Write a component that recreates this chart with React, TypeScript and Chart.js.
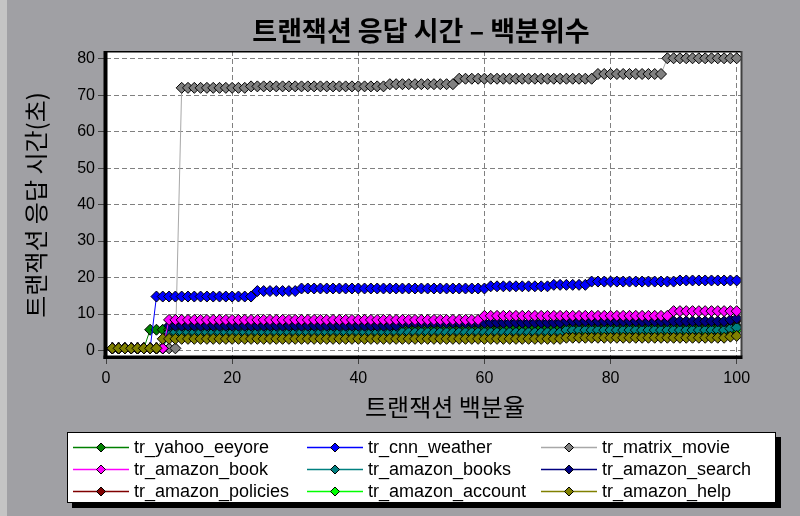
import React, { useEffect, useRef } from "react";
import { Chart, registerables } from "chart.js";
Chart.register(...registerables);

const TITLE = "트랜잭션 응답 시간 – 백분위수";
const X_TITLE = "트랜잭션 백분율";
const Y_TITLE = "트랜잭션 응답 시간(초)";

const X_TICKS = [0, 20, 40, 60, 80, 100];
const Y_TICKS = [0, 10, 20, 30, 40, 50, 60, 70, 80];

const PERCENTILES = [
  1, 2, 3, 4, 5, 6, 7, 8, 9, 10,
  11, 12, 13, 14, 15, 16, 17, 18, 19, 20,
  21, 22, 23, 24, 25, 26, 27, 28, 29, 30,
  31, 32, 33, 34, 35, 36, 37, 38, 39, 40,
  41, 42, 43, 44, 45, 46, 47, 48, 49, 50,
  51, 52, 53, 54, 55, 56, 57, 58, 59, 60,
  61, 62, 63, 64, 65, 66, 67, 68, 69, 70,
  71, 72, 73, 74, 75, 76, 77, 78, 79, 80,
  81, 82, 83, 84, 85, 86, 87, 88, 89, 90,
  91, 92, 93, 94, 95, 96, 97, 98, 99, 100,
];

const TR_YAHOO_EEYORE = [
  0.6, 0.6, 0.6, 0.6, 0.6, 0.6, 5.7, 5.7, 5.7, 5.7,
  5.7, 5.7, 5.7, 5.7, 5.7, 5.7, 5.7, 5.7, 5.7, 5.7,
  5.7, 5.7, 5.7, 5.7, 5.7, 5.7, 5.7, 5.7, 5.7, 5.7,
  5.7, 5.7, 5.7, 5.7, 5.7, 5.7, 5.7, 5.7, 5.7, 5.7,
  5.7, 5.7, 5.7, 5.7, 5.7, 5.7, 5.7, 5.7, 5.7, 5.7,
  5.7, 5.7, 5.7, 5.7, 5.7, 5.7, 5.7, 5.7, 5.7, 5.7,
  5.7, 5.7, 5.7, 6.2, 6.2, 6.2, 6.2, 6.2, 6.2, 6.2,
  6.2, 6.2, 6.2, 6.2, 6.2, 6.2, 6.2, 6.2, 6.2, 6.2,
  6.2, 6.2, 6.2, 6.2, 6.2, 6.2, 6.2, 6.2, 6.2, 6.2,
  6.2, 6.2, 6.2, 6.2, 6.2, 6.2, 6.2, 6.2, 6.2, 6.6,
];

const TR_CNN_WEATHER = [
  0.6, 0.6, 0.6, 0.6, 0.6, 0.6, 0.6, 14.8, 14.8, 14.8,
  14.8, 14.8, 14.8, 14.8, 14.8, 14.8, 14.8, 14.8, 14.8, 14.8,
  14.8, 14.8, 14.8, 16.3, 16.3, 16.3, 16.3, 16.3, 16.3, 16.3,
  17.0, 17.0, 17.0, 17.0, 17.0, 17.0, 17.0, 17.0, 17.0, 17.0,
  17.0, 17.0, 17.0, 17.0, 17.0, 17.0, 17.0, 17.0, 17.0, 17.0,
  17.0, 17.0, 17.0, 17.0, 17.0, 17.0, 17.0, 17.0, 17.0, 17.0,
  17.6, 17.6, 17.6, 17.6, 17.6, 17.6, 17.6, 17.6, 17.6, 17.6,
  18.0, 18.0, 18.0, 18.0, 18.0, 18.0, 18.9, 18.9, 18.9, 18.9,
  18.9, 18.9, 18.9, 18.9, 18.9, 18.9, 18.9, 18.9, 18.9, 18.9,
  19.2, 19.2, 19.2, 19.2, 19.2, 19.2, 19.2, 19.2, 19.2, 19.2,
];

const TR_MATRIX_MOVIE = [
  0.6, 0.6, 0.6, 0.6, 0.6, 0.6, 0.6, 0.6, 0.6, 0.6,
  0.6, 72.0, 72.0, 72.0, 72.0, 72.0, 72.0, 72.0, 72.0, 72.0,
  72.0, 72.0, 72.4, 72.4, 72.4, 72.4, 72.4, 72.4, 72.4, 72.4,
  72.4, 72.4, 72.4, 72.4, 72.4, 72.4, 72.4, 72.4, 72.4, 72.4,
  72.4, 72.4, 72.4, 72.4, 73.0, 73.0, 73.0, 73.0, 73.0, 73.0,
  73.0, 73.0, 73.0, 73.0, 73.0, 74.5, 74.5, 74.5, 74.5, 74.5,
  74.5, 74.5, 74.5, 74.5, 74.5, 74.5, 74.5, 74.5, 74.5, 74.5,
  74.5, 74.5, 74.5, 74.5, 74.5, 74.5, 74.5, 75.8, 75.8, 75.8,
  75.8, 75.8, 75.8, 75.8, 75.8, 75.8, 75.8, 75.8, 80.1, 80.1,
  80.1, 80.1, 80.1, 80.1, 80.1, 80.1, 80.1, 80.1, 80.1, 80.1,
];

const TR_AMAZON_BOOK = [
  0.6, 0.6, 0.6, 0.6, 0.6, 0.6, 0.6, 0.6, 0.6, 8.4,
  8.4, 8.4, 8.4, 8.4, 8.4, 8.4, 8.4, 8.4, 8.4, 8.4,
  8.4, 8.4, 8.4, 8.4, 8.4, 8.4, 8.4, 8.4, 8.4, 8.4,
  8.4, 8.4, 8.4, 8.4, 8.4, 8.4, 8.4, 8.4, 8.4, 8.4,
  8.4, 8.4, 8.4, 8.4, 8.4, 8.4, 8.4, 8.4, 8.4, 8.4,
  8.4, 8.4, 8.4, 8.4, 8.4, 8.4, 8.4, 8.4, 8.4, 9.5,
  9.5, 9.5, 9.5, 9.5, 9.5, 9.5, 9.5, 9.5, 9.5, 9.5,
  9.5, 9.5, 9.5, 9.5, 9.5, 9.5, 9.5, 9.5, 9.5, 9.5,
  9.5, 9.5, 9.5, 9.5, 9.5, 9.5, 9.5, 9.5, 9.5, 10.8,
  10.8, 10.8, 10.8, 10.8, 10.8, 10.8, 10.8, 10.8, 10.8, 10.8,
];

const TR_AMAZON_BOOKS = [
  0.6, 0.6, 0.6, 0.6, 0.6, 0.6, 0.6, 0.6, 0.6, 5.0,
  5.0, 5.0, 5.0, 5.0, 5.0, 5.0, 5.0, 5.0, 5.0, 5.0,
  5.0, 5.0, 5.0, 5.0, 5.0, 5.0, 5.0, 5.0, 5.0, 5.0,
  5.0, 5.0, 5.0, 5.0, 5.0, 5.0, 5.0, 5.0, 5.0, 5.0,
  5.0, 5.0, 5.0, 5.0, 5.0, 5.0, 5.0, 5.0, 5.0, 5.0,
  5.0, 5.0, 5.0, 5.0, 5.0, 5.0, 5.0, 5.0, 5.0, 5.0,
  5.0, 5.0, 5.0, 5.0, 5.0, 5.0, 5.0, 5.0, 5.0, 5.0,
  5.0, 5.0, 5.6, 5.6, 5.6, 5.6, 5.6, 5.6, 5.6, 5.6,
  5.6, 5.6, 5.6, 5.6, 5.6, 5.6, 5.6, 5.6, 5.6, 5.6,
  5.6, 5.6, 5.6, 5.6, 5.6, 5.6, 5.6, 5.6, 6.0, 6.3,
];

const TR_AMAZON_SEARCH = [
  0.6, 0.6, 0.6, 0.6, 0.6, 0.6, 0.6, 0.6, 0.6, 6.8,
  6.8, 6.8, 6.8, 6.8, 6.8, 6.8, 6.8, 6.8, 6.8, 6.8,
  6.8, 6.8, 6.8, 6.8, 6.8, 6.8, 6.8, 6.8, 6.8, 6.8,
  6.8, 6.8, 6.8, 6.8, 6.8, 6.8, 6.8, 6.8, 6.8, 6.8,
  6.8, 6.8, 6.8, 6.8, 6.8, 6.8, 7.6, 7.6, 7.6, 7.6,
  7.6, 7.6, 7.6, 7.6, 7.6, 7.6, 7.6, 7.6, 7.6, 7.6,
  7.6, 7.6, 7.6, 7.6, 7.6, 7.6, 7.6, 7.6, 7.6, 7.6,
  7.6, 7.6, 8.0, 8.0, 8.0, 8.0, 8.0, 8.0, 8.0, 8.0,
  8.0, 8.0, 8.0, 8.0, 8.0, 8.0, 8.0, 8.0, 8.0, 8.0,
  8.0, 8.0, 8.0, 8.0, 8.0, 8.0, 8.0, 8.0, 8.4, 8.8,
];

const TR_AMAZON_POLICIES = [
  0.6, 0.6, 0.6, 0.6, 0.6, 0.6, 0.6, 0.6, 0.6, 6.6,
  6.6, 6.6, 6.6, 6.6, 6.6, 6.6, 6.6, 6.6, 6.6, 6.6,
  6.6, 6.6, 6.6, 6.6, 6.6, 6.6, 6.6, 6.6, 6.6, 6.6,
  6.6, 6.6, 6.6, 6.6, 6.6, 6.6, 6.6, 6.6, 6.6, 6.6,
  6.6, 6.6, 6.6, 6.6, 6.6, 6.6, 7.4, 7.4, 7.4, 7.4,
  7.4, 7.4, 7.4, 7.4, 7.4, 7.4, 7.4, 7.4, 7.4, 7.4,
  7.4, 7.4, 7.4, 7.4, 7.4, 7.4, 7.4, 7.4, 7.4, 7.4,
  7.4, 7.4, 7.8, 7.8, 7.8, 7.8, 7.8, 7.8, 7.8, 7.8,
  7.8, 7.8, 7.8, 7.8, 7.8, 7.8, 7.8, 7.8, 7.8, 7.8,
  7.8, 7.8, 7.8, 7.8, 7.8, 7.8, 7.8, 7.8, 8.1, 8.4,
];

const TR_AMAZON_ACCOUNT = [
  0.6, 0.6, 0.6, 0.6, 0.6, 0.6, 0.6, 0.6, 0.6, 4.6,
  4.6, 4.6, 4.6, 4.6, 4.6, 4.6, 4.6, 4.6, 4.6, 4.6,
  4.6, 4.6, 4.6, 4.6, 4.6, 4.6, 4.6, 4.6, 4.6, 4.6,
  4.6, 4.6, 4.6, 4.6, 4.6, 4.6, 4.6, 4.6, 4.6, 4.6,
  4.6, 4.6, 4.6, 4.6, 4.6, 4.6, 4.6, 4.6, 4.6, 4.6,
  4.6, 4.6, 4.6, 4.6, 4.6, 4.6, 4.6, 4.6, 4.6, 4.6,
  4.6, 4.6, 4.6, 4.6, 4.6, 4.6, 4.6, 4.6, 4.6, 4.6,
  4.6, 4.6, 5.2, 5.2, 5.2, 5.2, 5.2, 5.2, 5.2, 5.2,
  5.2, 5.2, 5.2, 5.2, 5.2, 5.2, 5.2, 5.2, 5.2, 5.2,
  5.2, 5.2, 5.2, 5.2, 5.2, 5.2, 5.2, 5.2, 5.6, 5.6,
];

const TR_AMAZON_HELP = [
  0.6, 0.6, 0.6, 0.6, 0.6, 0.6, 0.6, 0.6, 3.2, 3.2,
  3.2, 3.2, 3.2, 3.2, 3.2, 3.2, 3.2, 3.2, 3.2, 3.2,
  3.2, 3.2, 3.2, 3.2, 3.2, 3.2, 3.2, 3.2, 3.2, 3.2,
  3.2, 3.2, 3.2, 3.2, 3.2, 3.2, 3.2, 3.2, 3.2, 3.2,
  3.2, 3.2, 3.2, 3.2, 3.2, 3.2, 3.2, 3.2, 3.2, 3.2,
  3.2, 3.2, 3.2, 3.2, 3.2, 3.2, 3.2, 3.2, 3.2, 3.2,
  3.2, 3.2, 3.2, 3.2, 3.2, 3.2, 3.2, 3.2, 3.2, 3.2,
  3.2, 3.2, 3.5, 3.5, 3.5, 3.5, 3.5, 3.5, 3.5, 3.5,
  3.5, 3.5, 3.5, 3.5, 3.5, 3.5, 3.5, 3.5, 3.5, 3.5,
  3.5, 3.5, 3.5, 3.5, 3.5, 3.5, 3.5, 3.5, 3.8, 4.0,
];

// legend order (row-major, 3 columns); `z` = drawing order (lower = on top)
const SERIES = [
  { name: "tr_yahoo_eeyore", values: TR_YAHOO_EEYORE, line: "#008000", fill: "#008000", z: 6 },
  { name: "tr_cnn_weather", values: TR_CNN_WEATHER, line: "#0000ff", fill: "#0000ff", z: 4 },
  { name: "tr_matrix_movie", values: TR_MATRIX_MOVIE, line: "#a8a8a8", fill: "#808080", z: 5 },
  { name: "tr_amazon_book", values: TR_AMAZON_BOOK, line: "#ff00ff", fill: "#ff00ff", z: 1 },
  { name: "tr_amazon_books", values: TR_AMAZON_BOOKS, line: "#008080", fill: "#008080", z: 3 },
  { name: "tr_amazon_search", values: TR_AMAZON_SEARCH, line: "#000080", fill: "#000080", z: 2 },
  { name: "tr_amazon_policies", values: TR_AMAZON_POLICIES, line: "#800000", fill: "#800000", z: 8 },
  { name: "tr_amazon_account", values: TR_AMAZON_ACCOUNT, line: "#00ff00", fill: "#00ff00", z: 7 },
  { name: "tr_amazon_help", values: TR_AMAZON_HELP, line: "#808000", fill: "#808000", z: 0 },
];

const KR_FONT = '"Noto Sans CJK KR", "Noto Sans", sans-serif';
const LAT_FONT = '"Liberation Sans", Arial, sans-serif';

const LEGEND_BOX = { left: 67, top: 432, right: 776, bottom: 503, shadow: 5 };
const LEGEND_COLS = [73, 307, 541];
const LEGEND_ROWS = [447, 469, 491];
const LEGEND_LINE = 56;

function drawDiamond(ctx: CanvasRenderingContext2D, x: number, y: number, r: number, fill: string) {
  ctx.beginPath();
  ctx.moveTo(x, y - r);
  ctx.lineTo(x + r, y);
  ctx.lineTo(x, y + r);
  ctx.lineTo(x - r, y);
  ctx.closePath();
  ctx.fillStyle = fill;
  ctx.fill();
  ctx.strokeStyle = "#000";
  ctx.lineWidth = 1;
  ctx.stroke();
}

const decor = {
  id: "decor",
  beforeDraw(chart: any) {
    const { ctx, chartArea: a, width, height } = chart;
    ctx.save();
    ctx.fillStyle = "#a0a0a4";
    ctx.fillRect(0, 0, width, height);
    ctx.fillStyle = "#c4c4c4";
    ctx.fillRect(0, 0, 7, height);
    ctx.fillStyle = "#ffffff";
    ctx.fillRect(a.left, a.top, a.right - a.left, a.bottom - a.top);
    ctx.restore();
  },
  afterDraw(chart: any) {
    const { ctx, chartArea: a } = chart;
    ctx.save();
    // plot frame
    ctx.fillStyle = "#000";
    ctx.fillRect(a.left, a.top, a.right - a.left, 1.5);
    ctx.fillStyle = "#404040";
    ctx.fillRect(a.right - 1, a.top, 2, a.bottom - a.top);
    ctx.fillStyle = "#000";
    ctx.fillRect(a.left - 2.5, a.top, 4, a.bottom - a.top + 3);
    ctx.fillRect(a.left - 2.5, a.bottom - 0.5, a.right - a.left + 3.5, 3.5);

    // title
    ctx.fillStyle = "#000";
    ctx.textAlign = "center";
    ctx.textBaseline = "middle";
    ctx.font = `bold 27px ${KR_FONT}`;
    ctx.fillText(TITLE, 421, 31);

    // axis titles
    ctx.font = `24px ${KR_FONT}`;
    ctx.fillText(X_TITLE, 445, 407);
    ctx.save();
    ctx.translate(36, 205);
    ctx.rotate(-Math.PI / 2);
    ctx.fillText(Y_TITLE, 0, 0);
    ctx.restore();

    // legend
    const L = LEGEND_BOX;
    const w = L.right - L.left;
    const h = L.bottom - L.top;
    ctx.fillStyle = "#000";
    ctx.fillRect(L.left + L.shadow, L.top + L.shadow, w, h);
    ctx.fillStyle = "#fff";
    ctx.fillRect(L.left, L.top, w, h);
    ctx.strokeStyle = "#000";
    ctx.lineWidth = 1;
    ctx.strokeRect(L.left + 0.5, L.top + 0.5, w - 1, h - 1);
    ctx.font = `18px ${LAT_FONT}`;
    ctx.textAlign = "left";
    SERIES.forEach((s, i) => {
      const x0 = LEGEND_COLS[i % 3];
      const y = LEGEND_ROWS[Math.floor(i / 3)];
      ctx.strokeStyle = s.line;
      ctx.lineWidth = 1.5;
      ctx.beginPath();
      ctx.moveTo(x0, y + 0.5);
      ctx.lineTo(x0 + LEGEND_LINE, y + 0.5);
      ctx.stroke();
      drawDiamond(ctx, x0 + LEGEND_LINE / 2, y + 0.5, 4.5, s.fill);
      ctx.fillStyle = "#000";
      ctx.fillText(s.name, x0 + LEGEND_LINE + 5, y + 1);
    });
    ctx.restore();
  },
};

export default function App() {
  const ref = useRef<HTMLCanvasElement | null>(null);
  useEffect(() => {
    document.body.style.margin = "0";
    const canvas = ref.current;
    if (!canvas) return;
    const chart = new Chart(canvas, {
      type: "line",
      data: {
        datasets: SERIES.map((s) => ({
          label: s.name,
          data: PERCENTILES.map((p, i) => ({ x: p, y: s.values[i] })),
          borderColor: s.line,
          backgroundColor: s.fill,
          borderWidth: 1,
          pointStyle: "rectRot",
          pointRadius: 5.5,
          pointBackgroundColor: s.fill,
          pointBorderColor: "#000",
          pointBorderWidth: 1,
          tension: 0,
          fill: false,
          order: s.z,
        })),
      },
      plugins: [decor],
      options: {
        responsive: false,
        animation: false,
        devicePixelRatio: 1,
        events: [],
        layout: { padding: { left: 0, top: 51, right: 58.5, bottom: 0 } },
        plugins: { legend: { display: false }, title: { display: false }, tooltip: { enabled: false } },
        scales: {
          x: {
            type: "linear",
            min: 0,
            max: 100.76,
            afterBuildTicks: (scale: any) => {
              scale.ticks = X_TICKS.map((v) => ({ value: v }));
            },
            afterFit: (scale: any) => {
              scale.height = 160;
            },
            ticks: {
              color: "#000",
              font: { family: LAT_FONT, size: 16 },
              padding: 5,
              maxRotation: 0,
              autoSkip: false,
            },
            grid: {
              color: "#808080",
              lineWidth: 1,
              tickLength: 8,
              tickColor: "#404040",
              tickBorderDash: [],
            },
            border: { display: false, dash: [5, 3] },
          },
          y: {
            type: "linear",
            min: -1.5,
            max: 82.1,
            afterBuildTicks: (scale: any) => {
              scale.ticks = Y_TICKS.map((v) => ({ value: v }));
            },
            afterFit: (scale: any) => {
              scale.width = 106;
            },
            ticks: {
              color: "#000",
              font: { family: LAT_FONT, size: 16 },
              padding: 3,
              autoSkip: false,
            },
            grid: {
              color: "#808080",
              lineWidth: 1,
              tickLength: 8,
              tickColor: "#404040",
              tickBorderDash: [],
            },
            border: { display: false, dash: [5, 3] },
          },
        },
      },
    } as any);
    return () => chart.destroy();
  }, []);
  return (
    <div style={{ width: 800, height: 516, background: "#a0a0a4" }}>
      <canvas ref={ref} width={800} height={516} style={{ display: "block", width: 800, height: 516 }} />
    </div>
  );
}
